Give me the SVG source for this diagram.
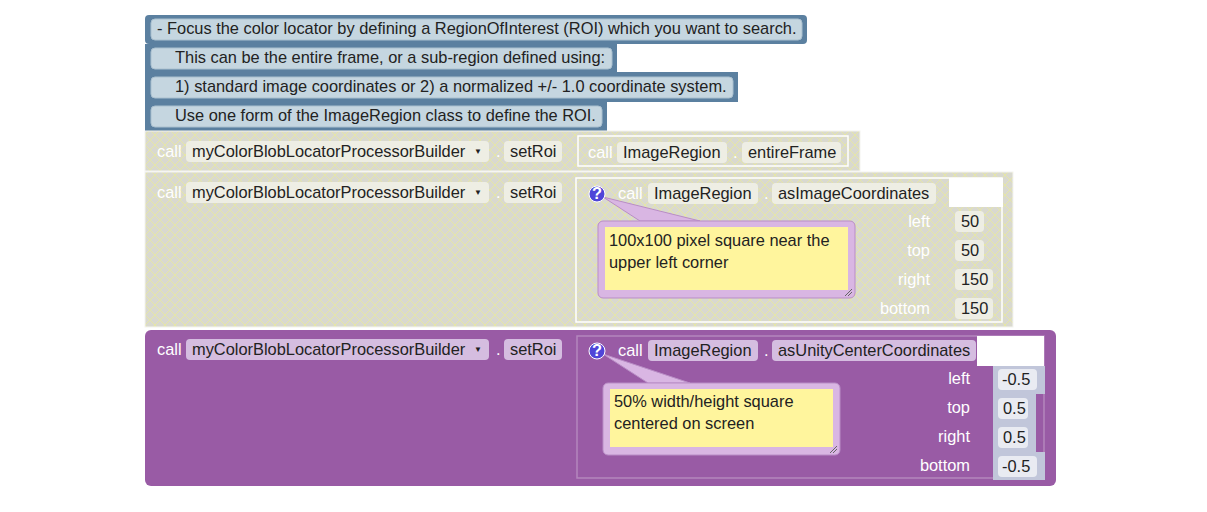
<svg xmlns="http://www.w3.org/2000/svg" width="1207" height="512" viewBox="0 0 1207 512">
<defs>
<pattern id="hatch" width="10" height="10" patternUnits="userSpaceOnUse">
<rect width="10" height="10" fill="#d9d9cf"/>
<path d="M0 0L10 10M10 0L0 10" stroke="#e6e6a6" stroke-width="1"/>
</pattern>
<style>
text{font-family:"Liberation Sans",Arial,sans-serif;font-size:16.4px;fill:#222}
.w{fill:#fff}
.cm{fill:#5b80a0}
.cf{fill:#c5d6e0;stroke:#aac0cf}
.hf{fill:#eeeee4}
.pf{fill:#d5bde0}
.vb{fill:#c1c6da}
.vf{fill:#e9ebf2}
.bub{fill:#d9b6e3;stroke:#b98dc6}
.yel{fill:#fff59d}
.lbl{fill:#fff;text-anchor:end}
.dd{font-size:8px}
</style>
</defs>
<rect width="1207" height="512" fill="#fff"/>
<g id="comment1"><rect class="cm" x="145" y="15" width="662" height="29" rx="4"/><rect class="cf" x="151" y="19" width="651" height="21" rx="4"/><text x="157" y="34">- Focus the color locator by defining a RegionOfInterest (ROI) which you want to search.</text></g>
<g id="comment2"><rect class="cm" x="145" y="44" width="472" height="28"/><rect class="cf" x="151" y="48" width="461" height="21" rx="4"/><text x="175" y="63">This can be the entire frame, or a sub-region defined using:</text></g>
<g id="comment3"><rect class="cm" x="145" y="72" width="593" height="30"/><rect class="cf" x="151" y="77" width="582" height="21" rx="4"/><text x="175" y="92">1) standard image coordinates or 2) a normalized +/- 1.0 coordinate system.</text></g>
<g id="comment4"><rect class="cm" x="145" y="102" width="462" height="29"/><rect class="cf" x="151" y="106" width="451" height="21" rx="4"/><text x="175" y="121">Use one form of the ImageRegion class to define the ROI.</text></g>

<g id="setRoi1">
<rect x="145" y="131" width="715" height="40" fill="url(#hatch)" stroke="#f4f4f0"/>
<text class="w" x="157" y="157">call</text>
<rect class="hf" x="186" y="141" width="303" height="21" rx="4"/><text x="192" y="157">myColorBlobLocatorProcessorBuilder</text><text class="dd" x="474" y="154">▼</text>
<text class="w" x="496" y="157">.</text>
<rect class="hf" x="504" y="141" width="58" height="21" rx="4"/><text x="510" y="157">setRoi</text>
<rect x="578" y="136" width="270" height="30" fill="url(#hatch)" stroke="#fff" stroke-width="1.5"/>
<text class="w" x="588" y="158">call</text>
<rect class="hf" x="617" y="142" width="110" height="21" rx="4"/><text x="623" y="158">ImageRegion</text>
<text class="w" x="733" y="158">.</text>
<rect class="hf" x="742" y="142" width="99" height="21" rx="4"/><text x="748" y="158">entireFrame</text>
</g>

<g id="setRoi2">
<rect x="145" y="172" width="868" height="155" fill="url(#hatch)" stroke="#f4f4f0"/>
<text class="w" x="157" y="198">call</text>
<rect class="hf" x="186" y="182" width="303" height="21" rx="4"/><text x="192" y="198">myColorBlobLocatorProcessorBuilder</text><text class="dd" x="474" y="195">▼</text>
<text class="w" x="496" y="198">.</text>
<rect class="hf" x="504" y="182" width="58" height="21" rx="4"/><text x="510" y="198">setRoi</text>
<rect x="576" y="178" width="426" height="144" fill="url(#hatch)" stroke="#fff" stroke-width="1.5"/>
<rect x="949" y="178" width="54" height="29" fill="#fff"/>
<text class="w" x="618" y="199">call</text>
<rect class="hf" x="648" y="183" width="110" height="21" rx="4"/><text x="654" y="199">ImageRegion</text>
<text class="w" x="764" y="199">.</text>
<rect class="hf" x="772" y="183" width="164" height="21" rx="4"/><text x="778" y="199">asImageCoordinates</text>
<text class="lbl" x="930" y="227">left</text><text class="lbl" x="930" y="256">top</text><text class="lbl" x="930" y="285">right</text><text class="lbl" x="930" y="314">bottom</text>
<rect class="hf" x="955" y="211" width="29" height="21" rx="4"/><text x="961" y="227">50</text>
<rect class="hf" x="955" y="240" width="29" height="21" rx="4"/><text x="961" y="256">50</text>
<rect class="hf" x="955" y="269" width="38" height="21" rx="4"/><text x="961" y="285">150</text>
<rect class="hf" x="955" y="298" width="38" height="21" rx="4"/><text x="961" y="314">150</text>
<path d="M603 197L640 221L700 221Z" class="bub" stroke="none"/>
<rect class="bub" x="598" y="221" width="257" height="77" rx="5"/>
<rect class="yel" x="605" y="227" width="243" height="63"/>
<text x="609" y="246">100x100 pixel square near the</text><text x="609" y="268">upper left corner</text>
<path d="M845 296L852 289M848 296L852 292" stroke="#666"/>
<circle cx="597" cy="194" r="8" fill="#4f45d8" stroke="#fff"/><text class="w" x="597" y="199" text-anchor="middle" font-size="12" font-weight="bold">?</text>
</g>

<g id="setRoi3">
<rect x="145" y="330" width="911" height="156" rx="6" fill="#995ba5"/>
<text class="w" x="157" y="355">call</text>
<rect class="pf" x="186" y="339" width="303" height="21" rx="4"/><text x="192" y="355">myColorBlobLocatorProcessorBuilder</text><text class="dd" x="474" y="352" fill="#9a7fa8">▼</text>
<text class="w" x="496" y="355">.</text>
<rect class="pf" x="504" y="339" width="58" height="21" rx="4"/><text x="510" y="355">setRoi</text>
<rect x="577" y="336" width="467" height="142" fill="#995ba5" stroke="#b487bd" stroke-width="1.5"/>
<rect x="977" y="336" width="67" height="30" fill="#fff"/>
<rect class="vb" x="993" y="366" width="52" height="28"/><rect class="vb" x="993" y="394" width="43" height="29"/><rect class="vb" x="993" y="423" width="43" height="29"/><rect class="vb" x="993" y="452" width="52" height="28"/>
<text class="w" x="618" y="356">call</text>
<rect class="pf" x="648" y="340" width="110" height="21" rx="4"/><text x="654" y="356">ImageRegion</text>
<text class="w" x="764" y="356">.</text>
<rect class="pf" x="772" y="340" width="204" height="21" rx="4"/><text x="778" y="356">asUnityCenterCoordinates</text>
<text class="lbl" x="970" y="384">left</text><text class="lbl" x="970" y="413">top</text><text class="lbl" x="970" y="442">right</text><text class="lbl" x="970" y="471">bottom</text>
<rect class="vf" x="998" y="369" width="39" height="21" rx="4"/><text x="1002" y="385">-0.5</text>
<rect class="vf" x="998" y="398" width="30" height="21" rx="4"/><text x="1003" y="414">0.5</text>
<rect class="vf" x="998" y="427" width="30" height="21" rx="4"/><text x="1003" y="443">0.5</text>
<rect class="vf" x="998" y="456" width="39" height="21" rx="4"/><text x="1002" y="472">-0.5</text>
<path d="M603 354L648 383L690 383Z" class="bub" stroke="none"/>
<rect class="bub" x="603" y="383" width="237" height="72" rx="5"/>
<rect class="yel" x="610" y="389" width="223" height="58"/>
<text x="614" y="407">50% width/height square</text><text x="614" y="429">centered on screen</text>
<path d="M830 453L837 446M833 453L837 449" stroke="#666"/>
<circle cx="597" cy="351" r="8" fill="#4f45d8" stroke="#fff"/><text class="w" x="597" y="356" text-anchor="middle" font-size="12" font-weight="bold">?</text>
</g>
</svg>
